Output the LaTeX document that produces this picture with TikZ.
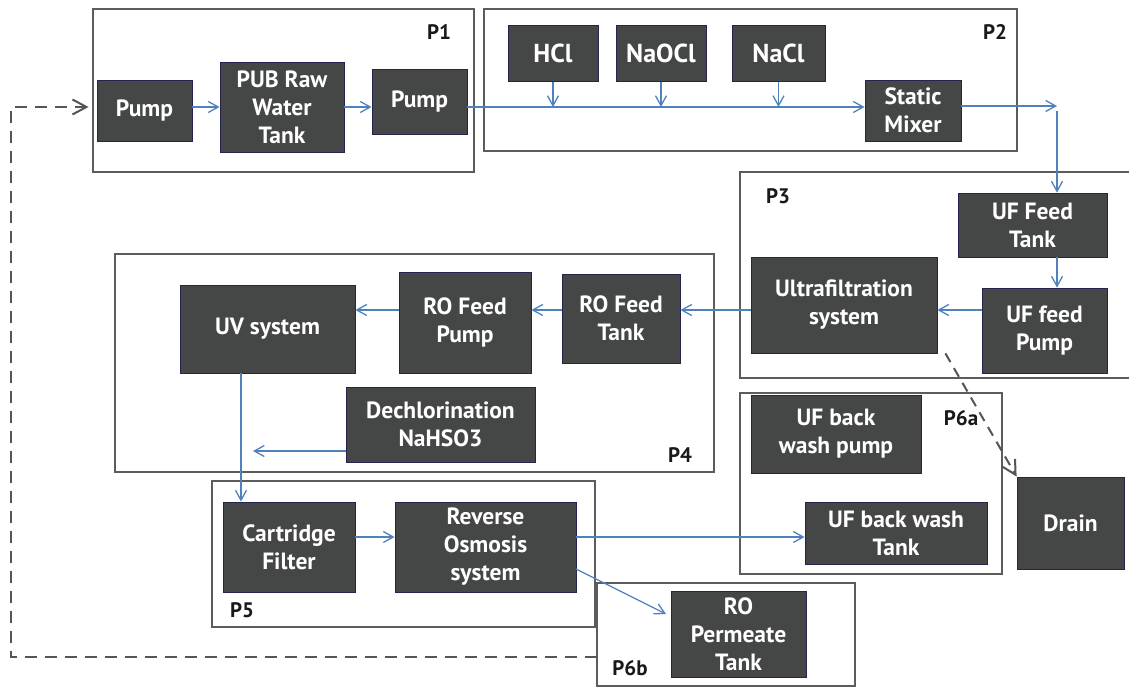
\documentclass[tikz,border=0pt]{standalone}
\usepackage{fontspec}
\setmainfont{PT Sans}
\usetikzlibrary{arrows.meta}

\definecolor{boxfill}{HTML}{454646}
\definecolor{boxline}{HTML}{24244C}
\definecolor{flow}{HTML}{4F81BD}
\definecolor{frame}{HTML}{5C5C5C}
\definecolor{retgrey}{HTML}{555555}

% unit box given by its corners: name, x1, y1, x2, y2, text
\newcommand\unitbox[7][]{%
  \node[unit, #1, minimum width={#5-#3}, minimum height={#6-#4}] (#2)
    at ({(#3+#5)/2},{(#4+#6)/2}) {#7};}

\begin{document}
\begin{tikzpicture}[x=1pt,y=-1pt,
  unit/.style={draw=boxline, line width=0.8pt, fill=boxfill, text=white,
    font=\bfseries\fontsize{23.5}{28}\selectfont, align=center, inner sep=0pt},
  chem/.style={font=\bfseries\fontsize{26}{30}\selectfont},
  group/.style={draw=frame, line width=2.4pt},
  grouplabel/.style={font=\bfseries\fontsize{21}{24}\selectfont, text=black!90},
  flowarrow/.style={draw=flow, line width=1.3pt,
    -{Straight Barb[length=10pt,width=11pt,line width=1.3pt]}},
  returnline/.style={draw=retgrey, line width=2pt, dash pattern=on 12pt off 8pt},
  drainline/.style={draw=retgrey, line width=2pt, dash pattern=on 10pt off 7pt,
    -{Straight Barb[length=14pt,width=15pt,line width=2pt]}},
]
\useasboundingbox (0,0) rectangle (1129,687);
\clip (0,0) rectangle (1129,687);

% process groups
\draw[group] (93,9) rectangle (474,172);
\draw[group] (484,9) rectangle (1017,151);
\draw[group] (740,172) rectangle (1140,378);
\draw[group] (115,254) rectangle (714,472);
\draw[group] (740,393) rectangle (1002,574);
\draw[group] (212,481) rectangle (595,627);
\draw[group] (597,583) rectangle (855,685.8);

\node[grouplabel] (lp1) at (439,32) {P1};
\node[grouplabel] (lp2) at (995,32) {P2};
\node[grouplabel] (lp3) at (778,196) {P3};
\node[grouplabel] (lp4) at (680,455) {P4};
\node[grouplabel] (lp5) at (242,610) {P5};
\node[grouplabel] (lp6a) at (961,418) {P6a};
\node[grouplabel] (lp6b) at (630,668) {P6b};

% units
\unitbox{pumpA}{97}{80}{192}{141}{Pump}
\unitbox{pubtank}{220}{62}{344}{152}{PUB Raw\\Water\\Tank}
\unitbox{pumpB}{372}{69}{467}{134}{Pump}
\unitbox[chem]{hcl}{508}{25}{598}{81}{HCl}
\unitbox[chem]{naocl}{616}{25}{706}{81}{NaOCl}
\unitbox[chem]{nacl}{732}{25}{825}{81}{NaCl}
\unitbox{mixer}{865}{80}{961}{141}{Static\\Mixer}
\unitbox{uftank}{958}{193}{1107}{257}{UF Feed\\Tank}
\unitbox{ufpump}{982}{288}{1107}{373}{UF feed\\Pump}
\unitbox{ultra}{751}{257}{937}{353}{Ultrafiltration\\system}
\unitbox{rotank}{562}{274}{680}{363}{RO Feed\\Tank}
\unitbox{ropump}{399}{272}{531}{373}{RO Feed\\Pump}
\unitbox{uv}{180}{285}{355}{373}{UV system}
\unitbox{dechl}{346}{387}{535}{462}{Dechlorination\\NaHSO3}
\unitbox{bwpump}{751}{395}{921}{473}{UF back\\wash pump}
\unitbox{bwtank}{805}{502}{987}{564}{UF back wash\\Tank}
\unitbox{drain}{1017}{477}{1124}{569}{Drain}
\unitbox{cart}{223}{502}{355}{592}{Cartridge\\Filter}
\unitbox{ro}{395}{502}{576}{592}{Reverse\\Osmosis\\system}
\unitbox{perm}{671}{591}{806}{677}{RO\\Permeate\\Tank}

% reference rows and free ends of connectors
\coordinate (row1) at (0,107);
\coordinate (row2) at (0,310);
\coordinate (row4) at (0,537);
\coordinate (turn) at (1057,106);
\coordinate (turnb) at (1057,111);
\coordinate (dechlend) at (253,451);
\coordinate (uvdrop) at (241,0);
\coordinate (rotap) at (576,569);
\coordinate (permin) at (666,614);
\coordinate (p6bleft) at (597,657);
\coordinate (retcorner) at (11,107);

% P1 and P2 flow
\draw[flowarrow] (pumpA.east |- row1) -- (pubtank.west |- row1);
\draw[flowarrow] (pubtank.east |- row1) -- (pumpB.west |- row1);
\draw[flowarrow] (pumpB.east |- row1) -- (mixer.west |- row1);
\draw[flowarrow] ([yshift=-1pt]hcl.south) -- (hcl.south |- row1);
\draw[flowarrow] ([yshift=-1pt]naocl.south) -- (naocl.south |- row1);
\draw[flowarrow] ([yshift=-1pt]nacl.south) -- (nacl.south |- row1);
\draw[flowarrow] (mixer.east |- turn) -- (turn);
\draw[flowarrow] (turnb) -- (uftank.north -| turnb);

% P3 flow
\draw[flowarrow] (uftank.south -| turnb) -- (ufpump.north -| turnb);
\draw[flowarrow] (ufpump.west |- row2) -- (ultra.east |- row2);
\draw[drainline] ([xshift=8pt]ultra.south east) -- (drain.north west);

% P4 flow
\draw[flowarrow] (ultra.west |- row2) -- (rotank.east |- row2);
\draw[flowarrow] (rotank.west |- row2) -- (ropump.east |- row2);
\draw[flowarrow] (ropump.west |- row2) -- (uv.east |- row2);
\draw[flowarrow] (dechl.west |- dechlend) -- (dechlend);
\draw[flowarrow] (uv.south -| uvdrop) -- (cart.north -| uvdrop);

% P5 and P6 flow
\draw[flowarrow] (cart.east |- row4) -- (ro.west |- row4);
\draw[flowarrow] (ro.east |- row4) -- (bwtank.west |- row4);
\draw[flowarrow] (rotap) -- (permin);

% permeate return to the inlet pump
\draw[returnline] (p6bleft) -| (retcorner) -- ([xshift=-8pt]pumpA.west |- row1);
\draw[draw=retgrey, line width=2pt,
  -{Straight Barb[length=14pt,width=15pt,line width=2pt]}]
  ([xshift=-12pt]pumpA.west |- row1) -- ([xshift=-8pt]pumpA.west |- row1);
\end{tikzpicture}
\end{document}
